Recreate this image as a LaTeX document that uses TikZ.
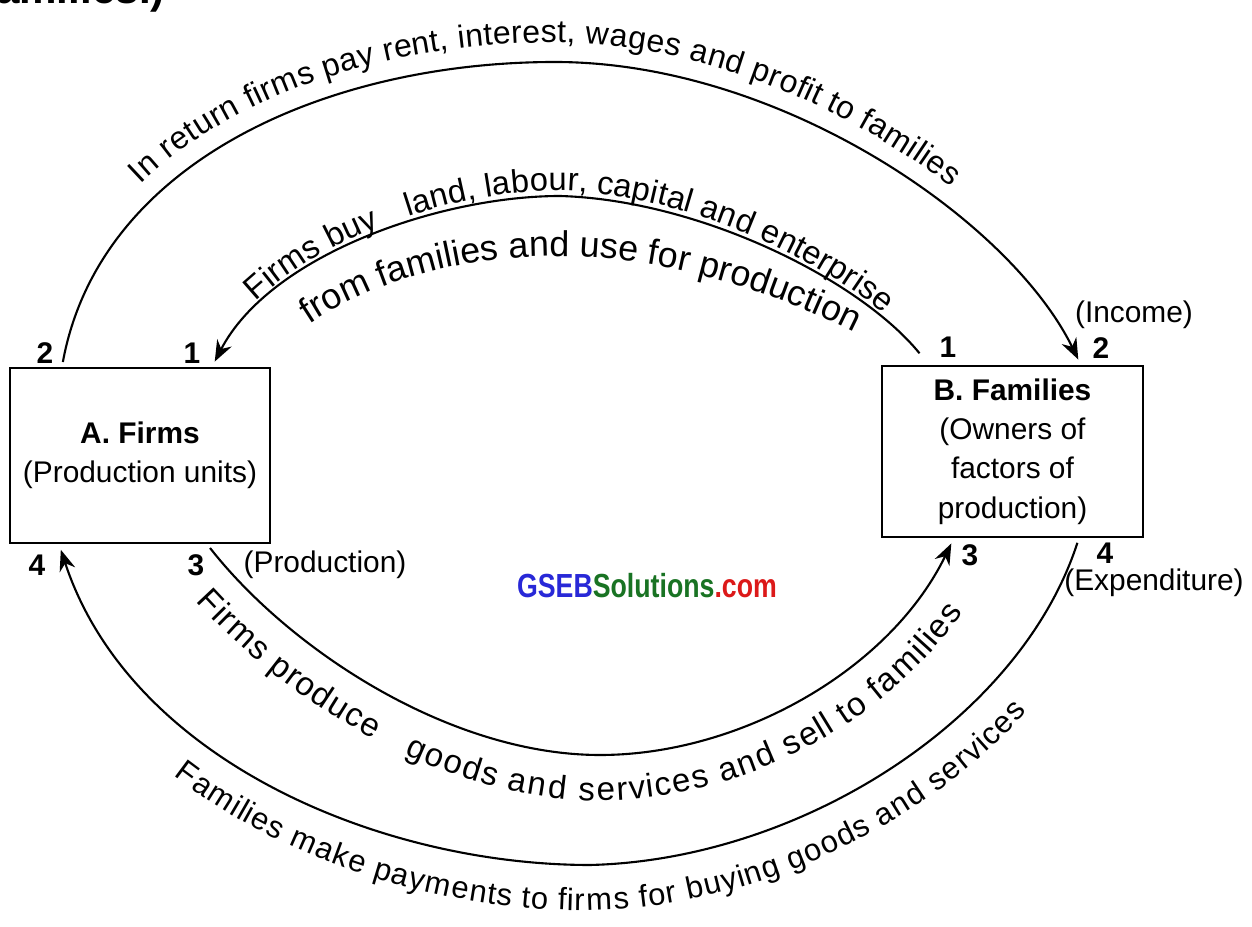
\documentclass[tikz,border=0pt]{standalone}
\usepackage{fontspec}
\setmainfont{Liberation Sans}
\usepackage{xcolor}
\usetikzlibrary{shapes,arrows.meta,decorations.text}
\definecolor{gsebblue}{RGB}{40,40,215}
\definecolor{gsebgreen}{RGB}{25,115,35}
\definecolor{gsebred}{RGB}{220,25,25}

\begin{document}
\begin{tikzpicture}[line width=0.6pt]
	\useasboundingbox (0,0) rectangle (12.52,-9.27);
	\tikzstyle{every node}=[font=\fontsize{8.5}{11.2}\selectfont, inner sep=0pt]
	\tikzstyle{box}=[draw, align=center, minimum width=2.6cm, minimum height=1.75cm]
	\tikzstyle{num}=[font=\fontsize{8.5}{10}\selectfont\bfseries]
	\tikzstyle{flow}=[-{Stealth[length=6pt,width=4.6pt]}, shorten <=0.5mm, shorten >=0.6mm]
	\tikzstyle{along}=[decorate]
	\draw (-0.05,-0.035) node[anchor=base west, font=\fontsize{12}{14}\selectfont\bfseries] (prev) {amilies.)};
	\draw (1.40,-4.555) node[box] (firms) {\textbf{A. Firms}\\(Production units)};
	\draw (10.125,-4.515) node[box, minimum width=2.61cm, minimum height=1.71cm] (families) {\textbf{B. Families}\\(Owners of\\factors of\\production)};
	\draw (0.45,-3.53) node[num] (a2) {2};
	\draw (1.92,-3.53) node[num] (a1) {1};
	\draw (0.37,-5.65) node[num] (a4) {4};
	\draw (1.96,-5.65) node[num] (a3) {3};
	\draw (3.25,-5.65) node (prod) {(Production)};
	\draw (9.48,-3.47) node[num] (b1) {1};
	\draw (11.01,-3.48) node[num] (b2) {2};
	\draw (11.34,-3.15) node (income) {(Income)};
	\draw (9.70,-5.55) node[num] (b3) {3};
	\draw (11.05,-5.53) node[num] (b4) {4};
	\draw (11.54,-5.83) node (expend) {(Expenditure)};
	\draw (6.47,-5.86) node[font=\fontsize{9.5}{11}\selectfont\bfseries] (gseb) {\scalebox{0.8}[1]{\textcolor{gsebblue}{GSEB}\textcolor{gsebgreen}{Solutions}\textcolor{gsebred}{.com}}};
	\draw [flow] ([xshift=0.53cm]firms.north west) .. controls (1.0,-1.6) and (3.3,-0.62) .. (5.55,-0.62) .. controls (7.8,-0.62) and (10.1,-2.2) .. ([xshift=2.0cm]families.north west);
	\draw [flow, shorten <=1.5mm] ([xshift=0.48cm]families.north west) .. controls (8.6,-2.8) and (7.0,-2.0) .. (5.6,-1.96) .. controls (4.4,-1.96) and (2.7,-2.55) .. ([xshift=2.03cm]firms.north west);
	\draw [flow] ([xshift=1.98cm]firms.south west) .. controls (2.9,-6.5) and (4.5,-7.55) .. (6.0,-7.55) .. controls (7.4,-7.55) and (8.9,-6.7) .. ([xshift=0.73cm]families.south west);
	\draw [flow] ([xshift=1.98cm]families.south west) .. controls (10.2,-7.2) and (8.0,-8.6) .. (5.9,-8.65) .. controls (3.8,-8.65) and (1.3,-7.6) .. ([xshift=0.5cm]firms.south west);
	\path [along, decoration={text along path, raise=5.5pt, text align={align=left, left indent=1.95cm}, text={|\fontsize{9.1}{10}\selectfont|In return firms pay rent, interest, wages and profit to families}}] ([xshift=0.53cm]firms.north west) .. controls (1.0,-1.6) and (3.3,-0.62) .. (5.55,-0.62) .. controls (7.8,-0.62) and (10.1,-2.2) .. ([xshift=2.0cm]families.north west);
	\path [along, decoration={text along path, raise=1.5pt, text align={align=center, left indent=0.72cm, right indent=0.62cm}, text={|\fontsize{9.3}{11}\selectfont|Firms buy{\hspace{6pt}} land, labour, capital and enterprise}}] ([xshift=2.03cm]firms.north west) .. controls (2.7,-2.55) and (4.4,-1.96) .. (5.6,-1.96) .. controls (7.0,-2.0) and (8.6,-2.8) .. ([xshift=0.48cm]families.north west);
	\path [along, decoration={text along path, text align={align=center}, text={|\fontsize{10.2}{12}\selectfont|from families and use for production}}] (3.08,-3.25) .. controls (4.2,-2.5) and (6.2,-2.15) .. (8.55,-3.33);
	\path [along, decoration={text along path, raise=-13pt, text align={align=center, left indent=0.4cm, right indent=0.6cm}, text={|\fontsize{9.4}{11}\selectfont|Firms produce{\hspace{6pt}} goods and services and sell to families}}] ([xshift=1.98cm]firms.south west) .. controls (2.9,-6.5) and (4.5,-7.55) .. (6.0,-7.55) .. controls (7.4,-7.55) and (8.9,-6.7) .. ([xshift=0.73cm]families.south west);
	\path [along, decoration={text along path, raise=-13pt, text align={align=left, left indent=2.45cm}, text={|\fontsize{8.8}{10}\selectfont|Families make payments to firms for buying goods and services}}] ([xshift=0.5cm]firms.south west) .. controls (1.3,-7.6) and (3.8,-8.65) .. (5.9,-8.65) .. controls (8.0,-8.6) and (10.2,-7.2) .. ([xshift=1.98cm]families.south west);
\end{tikzpicture}
\end{document}
